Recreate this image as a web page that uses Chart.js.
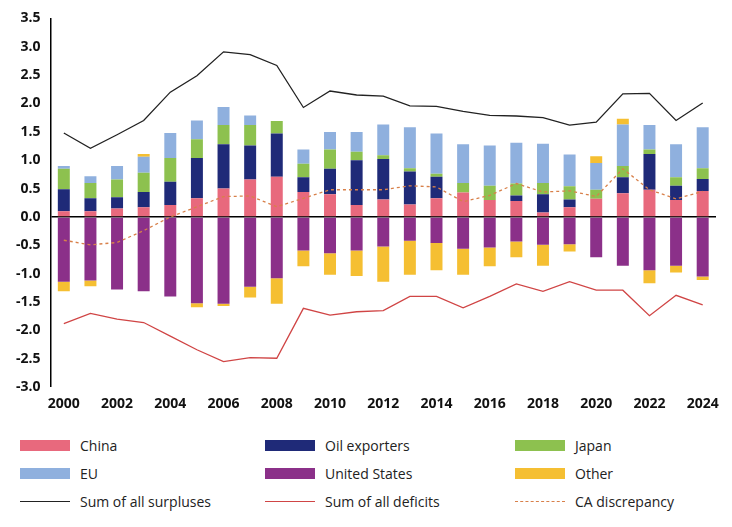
<!DOCTYPE html>
<html>
<head>
<meta charset="utf-8">
<script src="https://cdn.jsdelivr.net/npm/chart.js@4"></script>
<style>
  body { margin: 0; background: #fff; font-family: "Open Sans", sans-serif; }
  #wrap { position: relative; width: 732px; height: 420px; }
  #legend { display: grid; grid-template-columns: 245px 250px 230px; row-gap: 9px; margin: 16px 0 0 20px; font-size: 14px; color: #222; }
  .item { display: flex; align-items: center; }
  .mark { width: 50px; margin-right: 10px; }
</style>
</head>
<body>
<div id="wrap"><canvas id="canvas"></canvas></div>
<div id="legend"></div>
<script>
/* Years on the x axis. */
const years = []
for (let y = 2000; y <= 2024; y++) years.push(String(y))

/* Current account balances, % of world GDP. */
const china = [0.10,0.10,0.15,0.17,0.21,0.33,0.50,0.66,0.71,0.44,0.40,0.21,0.31,0.22,0.33,0.43,0.30,0.28,0.08,0.17,0.32,0.42,0.48,0.30,0.46]
const oilExporters = [0.39,0.23,0.20,0.27,0.41,0.71,0.78,0.60,0.76,0.26,0.45,0.79,0.71,0.58,0.38,0,0,0.10,0.32,0.14,0,0.28,0.63,0.25,0.21]
const japan = [0.36,0.27,0.31,0.34,0.42,0.33,0.34,0.36,0.22,0.24,0.34,0.15,0.07,0.06,0.05,0.17,0.25,0.21,0.20,0.23,0.16,0.20,0.08,0.15,0.19]
const eu = [0.05,0.12,0.24,0.28,0.44,0.33,0.32,0.17,0,0.25,0.31,0.35,0.54,0.72,0.71,0.68,0.71,0.72,0.69,0.56,0.47,0.73,0.43,0.58,0.72]
const otherSurplus = [0,0,0,0.05,0,0,0,0,0,0,0,0,0,0,0,0,0,0,0,0,0.12,0.10,0,0,0]
const unitedStates = [-1.14,-1.12,-1.28,-1.31,-1.40,-1.52,-1.53,-1.23,-1.08,-0.59,-0.64,-0.59,-0.52,-0.42,-0.46,-0.56,-0.54,-0.43,-0.49,-0.48,-0.71,-0.86,-0.94,-0.86,-1.05]
const otherDeficit = [-0.17,-0.10,0,0,0,-0.07,-0.04,-0.19,-0.45,-0.28,-0.38,-0.45,-0.62,-0.60,-0.48,-0.46,-0.33,-0.28,-0.37,-0.13,0,0,-0.23,-0.12,-0.06]
const sumSurpluses = [1.48,1.21,1.45,1.70,2.20,2.49,2.91,2.86,2.67,1.93,2.22,2.15,2.13,1.96,1.95,1.86,1.79,1.78,1.75,1.62,1.67,2.17,2.18,1.70,2.01]
const sumDeficits = [-1.88,-1.70,-1.80,-1.86,-2.10,-2.34,-2.55,-2.48,-2.49,-1.61,-1.73,-1.67,-1.65,-1.40,-1.40,-1.60,-1.40,-1.18,-1.31,-1.14,-1.29,-1.29,-1.74,-1.38,-1.55]
const discrepancy = [-0.41,-0.49,-0.45,-0.24,0.00,0.18,0.36,0.37,0.18,0.33,0.48,0.48,0.48,0.55,0.53,0.27,0.38,0.59,0.44,0.46,0.36,0.85,0.48,0.32,0.45]

/* Colours. */
const cChina = "#e8697d"
const cOil = "#1f2a78"
const cJapan = "#8dc14f"
const cEU = "#8fb0de"
const cUS = "#8b3089"
const cOther = "#f5bf32"
const cSurplus = "#222222"
const cDeficit = "#d04545"
const cDisc = "#d8804a"

const bar = (label, data, color) => ({
  type: "bar", label, data, backgroundColor: color, stack: "bars",
  barPercentage: 0.5, categoryPercentage: 0.9, order: 2
})
const line = (label, data, color, dash) => ({
  type: "line", label, data, borderColor: color, borderWidth: 1.3, borderDash: dash,
  pointRadius: 0, fill: false, tension: 0, stack: label, order: 1
})

const ctx = document.getElementById("canvas").getContext("2d")
new Chart(ctx, {
  data: {
    labels: years,
    datasets: [
      bar("China", china, cChina),
      bar("Oil exporters", oilExporters, cOil),
      bar("Japan", japan, cJapan),
      bar("EU", eu, cEU),
      bar("Other", otherSurplus, cOther),
      bar("United States", unitedStates, cUS),
      bar("Other (deficit)", otherDeficit, cOther),
      line("Sum of all surpluses", sumSurpluses, cSurplus, []),
      line("Sum of all deficits", sumDeficits, cDeficit, []),
      line("CA discrepancy", discrepancy, cDisc, [3, 3])
    ]
  },
  options: {
    responsive: true,
    maintainAspectRatio: false,
    animation: false,
    layout: { padding: { top: 14, right: 16, left: 6, bottom: 0 } },
    plugins: { legend: { display: false }, tooltip: { enabled: false } },
    scales: {
      x: {
        stacked: true,
        offset: true,
        grid: { display: false, drawTicks: false },
        border: { display: false },
        ticks: {
          autoSkip: false, maxRotation: 0, color: "#111", padding: 8,
          font: { family: "Open Sans", size: 14, weight: "bold" },
          callback: (v, i) => i % 2 === 0 ? years[i] : ""
        }
      },
      y: {
        stacked: true,
        min: -3, max: 3.5,
        grid: {
          drawTicks: false,
          color: ctx => ctx.tick.value === 0 ? "#000" : "transparent",
          lineWidth: ctx => ctx.tick.value === 0 ? 1.5 : 0
        },
        border: { display: true, color: "#000", width: 1.5 },
        ticks: {
          stepSize: 0.5, color: "#111", padding: 10,
          font: { family: "Open Sans", size: 14, weight: "bold" },
          callback: v => v.toFixed(1)
        }
      }
    }
  }
})

/* Build the legend below the chart. */
const legendItems = [
  ["China", cChina, "box"], ["Oil exporters", cOil, "box"], ["Japan", cJapan, "box"],
  ["EU", cEU, "box"], ["United States", cUS, "box"], ["Other", cOther, "box"],
  ["Sum of all surpluses", cSurplus, "line"], ["Sum of all deficits", cDeficit, "line"], ["CA discrepancy", cDisc, "dash"]
]
const legend = document.getElementById("legend")
legendItems.forEach(([name, color, kind]) => {
  const item = document.createElement("div")
  item.className = "item"
  const mark = document.createElement("span")
  mark.className = "mark"
  if (kind === "box") {
    mark.style.height = "11px"
    mark.style.background = color
  } else {
    mark.style.height = "0"
    mark.style.borderTop = (kind === "dash" ? "1.5px dashed " : "1.5px solid ") + color
  }
  const text = document.createElement("span")
  text.innerText = name
  item.appendChild(mark)
  item.appendChild(text)
  legend.appendChild(item)
})
</script>
</body>
</html>
